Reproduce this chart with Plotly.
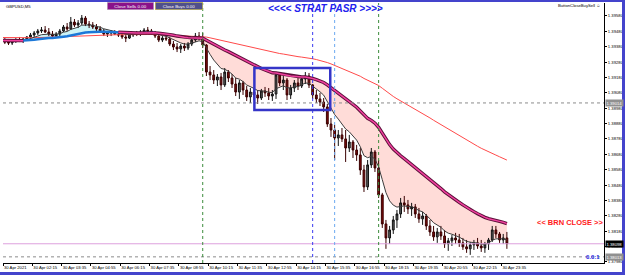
import plotly.graph_objects as go
import pandas as pd
import numpy as np

# ---------------- data (GBPUSD, 10-minute bars) ----------------
bar_start = "2021-04-30 00:50"
bar_freq = "10min"

opens = [1.39410, 1.39417, 1.39410, 1.39404, 1.39417, 1.39423, 1.39417, 1.39430, 1.39443, 1.39456,
         1.39469, 1.39482, 1.39488, 1.39475, 1.39462, 1.39449, 1.39462, 1.39482, 1.39508, 1.39495,
         1.39540, 1.39521, 1.39534, 1.39566, 1.39527, 1.39521, 1.39508, 1.39495, 1.39482, 1.39462,
         1.39469, 1.39475, 1.39462, 1.39456, 1.39443, 1.39436, 1.39456, 1.39469, 1.39462, 1.39475,
         1.39488, 1.39482, 1.39469, 1.39449, 1.39423, 1.39436, 1.39430, 1.39397, 1.39378, 1.39365,
         1.39384, 1.39371, 1.39397, 1.39423, 1.39449, 1.39436, 1.39391, 1.39215, 1.39196, 1.39163,
         1.39183, 1.39131, 1.39215, 1.39176, 1.39137, 1.39085, 1.39144, 1.39098, 1.39053, 1.39085,
         1.39066, 1.39046, 1.39092, 1.39079, 1.39059, 1.39072, 1.39196, 1.39144, 1.39163, 1.39066,
         1.39111, 1.39144, 1.39124, 1.39170, 1.39189, 1.39131, 1.39066, 1.39040, 1.39020, 1.38988,
         1.38877, 1.38838, 1.38786, 1.38806, 1.38780, 1.38721, 1.38760, 1.38708, 1.38676, 1.38578,
         1.38468, 1.38611, 1.38695, 1.38591, 1.38416, 1.38227, 1.38136, 1.38188, 1.38253, 1.38292,
         1.38364, 1.38351, 1.38325, 1.38338, 1.38292, 1.38260, 1.38279, 1.38214, 1.38175, 1.38143,
         1.38175, 1.38149, 1.38097, 1.38117, 1.38136, 1.38123, 1.38104, 1.38078, 1.38065, 1.38091,
         1.38104, 1.38084, 1.38071, 1.38097, 1.38123, 1.38188, 1.38162, 1.38123, 1.38136]

highs = [1.39430, 1.39436, 1.39430, 1.39423, 1.39436, 1.39443, 1.39436, 1.39449, 1.39469, 1.39482,
         1.39495, 1.39508, 1.39514, 1.39501, 1.39482, 1.39475, 1.39495, 1.39521, 1.39534, 1.39573,
         1.39560, 1.39553, 1.39586, 1.39579, 1.39547, 1.39540, 1.39527, 1.39514, 1.39495, 1.39482,
         1.39488, 1.39488, 1.39482, 1.39475, 1.39462, 1.39469, 1.39475, 1.39482, 1.39488, 1.39501,
         1.39508, 1.39495, 1.39482, 1.39469, 1.39449, 1.39456, 1.39443, 1.39417, 1.39404, 1.39397,
         1.39404, 1.39410, 1.39436, 1.39469, 1.39475, 1.39469, 1.39397, 1.39254, 1.39228, 1.39202,
         1.39209, 1.39241, 1.39228, 1.39202, 1.39176, 1.39163, 1.39157, 1.39124, 1.39111, 1.39111,
         1.39098, 1.39105, 1.39118, 1.39111, 1.39098, 1.39215, 1.39215, 1.39189, 1.39176, 1.39131,
         1.39163, 1.39176, 1.39189, 1.39215, 1.39209, 1.39137, 1.39098, 1.39079, 1.39046, 1.39007,
         1.38916, 1.38871, 1.38838, 1.38851, 1.38838, 1.38806, 1.38773, 1.38741, 1.38721, 1.38611,
         1.38643, 1.38721, 1.38708, 1.38643, 1.38429, 1.38253, 1.38214, 1.38279, 1.38318, 1.38396,
         1.38409, 1.38383, 1.38364, 1.38357, 1.38331, 1.38305, 1.38292, 1.38253, 1.38214, 1.38201,
         1.38214, 1.38188, 1.38136, 1.38156, 1.38169, 1.38162, 1.38136, 1.38123, 1.38110, 1.38123,
         1.38136, 1.38123, 1.38110, 1.38136, 1.38214, 1.38214, 1.38175, 1.38162, 1.38175]

lows = [1.39397, 1.39397, 1.39391, 1.39391, 1.39404, 1.39410, 1.39404, 1.39417, 1.39430, 1.39443,
        1.39456, 1.39469, 1.39469, 1.39449, 1.39436, 1.39436, 1.39449, 1.39475, 1.39482, 1.39488,
        1.39508, 1.39501, 1.39521, 1.39514, 1.39501, 1.39495, 1.39482, 1.39469, 1.39449, 1.39443,
        1.39449, 1.39456, 1.39443, 1.39430, 1.39410, 1.39430, 1.39443, 1.39449, 1.39449, 1.39462,
        1.39469, 1.39456, 1.39436, 1.39410, 1.39410, 1.39417, 1.39384, 1.39358, 1.39345, 1.39339,
        1.39352, 1.39358, 1.39384, 1.39410, 1.39423, 1.39371, 1.39189, 1.39163, 1.39137, 1.39124,
        1.39098, 1.39118, 1.39150, 1.39111, 1.39059, 1.39040, 1.39066, 1.39027, 1.39014, 1.39033,
        1.39007, 1.39033, 1.39053, 1.39033, 1.39027, 1.39040, 1.39124, 1.39098, 1.39033, 1.39040,
        1.39085, 1.39098, 1.39111, 1.39137, 1.39111, 1.39040, 1.39014, 1.38994, 1.38955, 1.38858,
        1.38793, 1.38643, 1.38734, 1.38760, 1.38630, 1.38695, 1.38656, 1.38637, 1.38546, 1.38435,
        1.38448, 1.38591, 1.38565, 1.38396, 1.38201, 1.38065, 1.38097, 1.38162, 1.38201, 1.38266,
        1.38305, 1.38292, 1.38279, 1.38266, 1.38234, 1.38221, 1.38188, 1.38149, 1.38117, 1.38104,
        1.38123, 1.38071, 1.38052, 1.38084, 1.38097, 1.38078, 1.38058, 1.38039, 1.38026, 1.38058,
        1.38065, 1.38045, 1.38039, 1.38058, 1.38110, 1.38136, 1.38104, 1.38097, 1.38065]

closes = [1.39417, 1.39410, 1.39404, 1.39417, 1.39423, 1.39417, 1.39430, 1.39443, 1.39456, 1.39469,
          1.39482, 1.39488, 1.39475, 1.39462, 1.39449, 1.39462, 1.39482, 1.39508, 1.39495, 1.39540,
          1.39521, 1.39534, 1.39566, 1.39527, 1.39521, 1.39508, 1.39495, 1.39482, 1.39462, 1.39469,
          1.39475, 1.39462, 1.39456, 1.39443, 1.39436, 1.39456, 1.39469, 1.39462, 1.39475, 1.39488,
          1.39482, 1.39469, 1.39449, 1.39423, 1.39436, 1.39430, 1.39397, 1.39378, 1.39365, 1.39384,
          1.39371, 1.39397, 1.39423, 1.39449, 1.39436, 1.39391, 1.39215, 1.39196, 1.39163, 1.39183,
          1.39131, 1.39215, 1.39176, 1.39137, 1.39085, 1.39144, 1.39098, 1.39053, 1.39085, 1.39066,
          1.39046, 1.39092, 1.39079, 1.39059, 1.39072, 1.39196, 1.39144, 1.39163, 1.39066, 1.39111,
          1.39144, 1.39124, 1.39170, 1.39189, 1.39131, 1.39066, 1.39040, 1.39020, 1.38988, 1.38877,
          1.38838, 1.38786, 1.38806, 1.38780, 1.38721, 1.38760, 1.38708, 1.38676, 1.38578, 1.38468,
          1.38611, 1.38695, 1.38591, 1.38416, 1.38227, 1.38136, 1.38188, 1.38253, 1.38292, 1.38364,
          1.38351, 1.38325, 1.38338, 1.38292, 1.38260, 1.38279, 1.38214, 1.38175, 1.38143, 1.38175,
          1.38149, 1.38097, 1.38117, 1.38136, 1.38123, 1.38104, 1.38078, 1.38065, 1.38091, 1.38104,
          1.38084, 1.38071, 1.38097, 1.38123, 1.38188, 1.38162, 1.38123, 1.38136, 1.38098]

# moving average settings (periods in bars, starting values read from the left edge)
fast_period = 8
slow_period = 33
slow_start = 1.39420
long_period = 100
long_start = 1.39440

# horizontal levels and markers
bid_price = 1.38098
level_upper = 1.39014
level_lower = 1.38013
session_lines = ["2021-04-30 10:00", "2021-04-30 15:00", "2021-04-30 16:00", "2021-04-30 18:00"]
box_start, box_end = "2021-04-30 12:21", "2021-04-30 15:48"
box_top, box_bottom = 1.39241, 1.38968

# axis labels
x_range = ["2021-04-30 00:55", "2021-05-01 04:15"]
x_tick_times = ["2021-04-30 00:55", "2021-04-30 02:15", "2021-04-30 03:35", "2021-04-30 04:55",
                "2021-04-30 06:15", "2021-04-30 07:35", "2021-04-30 08:55", "2021-04-30 10:15",
                "2021-04-30 11:35", "2021-04-30 12:55", "2021-04-30 14:15", "2021-04-30 15:35",
                "2021-04-30 16:55", "2021-04-30 18:15", "2021-04-30 19:35", "2021-04-30 20:55",
                "2021-04-30 22:15", "2021-04-30 23:35"]
x_tick_text = ["30 Apr 2021", "30 Apr 02:15", "30 Apr 03:35", "30 Apr 04:55", "30 Apr 06:15",
               "30 Apr 07:35", "30 Apr 08:55", "30 Apr 10:15", "30 Apr 11:35", "30 Apr 12:55",
               "30 Apr 14:15", "30 Apr 15:35", "30 Apr 16:55", "30 Apr 18:15", "30 Apr 19:35",
               "30 Apr 20:55", "30 Apr 22:15", "30 Apr 23:35"]
y_range = [1.37973, 1.39664]
y_ticks = [1.37980, 1.38080, 1.38180, 1.38280, 1.38380, 1.38480, 1.38580, 1.38680, 1.38780,
           1.38880, 1.38980, 1.39080, 1.39180, 1.39280, 1.39380, 1.39480, 1.39580]
y_tick_text = ["%.5f" % v for v in y_ticks]

# ---------------- derived indicator lines ----------------
times = pd.date_range(bar_start, periods=len(closes), freq=bar_freq)


def ema(values, period, start):
    a = 2.0 / (period + 1)
    e = start
    out = []
    for v in values:
        e = e + a * (v - e)
        out.append(e)
    return np.array(out)


fast = ema(closes, fast_period, closes[0])
slow = ema(closes, slow_period, slow_start)
longma = ema(closes, long_period, long_start)

bear = fast < slow
bear_ext = bear.copy()
bear_ext[1:] |= bear[:-1]
bear_ext[:-1] |= bear[1:]
bull = ~bear
bull_ext = bull.copy()
bull_ext[1:] |= bull[:-1]
bull_ext[:-1] |= bull[1:]

# ---------------- figure ----------------
W, H = 625, 275
ML, MR, MT, MB = 3, 21, 3, 12
PW, PH = W - ML - MR, H - MT - MB


def px(x):
    return (x - ML) / PW


def py(y):
    return (H - MB - y) / PH


fig = go.Figure()

# fills between fast and slow MA (bottom layer, main axes)
fig.add_trace(go.Scatter(x=times, y=slow, mode="lines", line=dict(width=0), hoverinfo="skip"))
fig.add_trace(go.Scatter(x=times, y=np.where(bear, fast, slow), mode="lines", line=dict(width=0),
                         fill="tonexty", fillcolor="#FFDCD8", hoverinfo="skip"))
fig.add_trace(go.Scatter(x=times, y=slow, mode="lines", line=dict(width=0), hoverinfo="skip"))
fig.add_trace(go.Scatter(x=times, y=np.where(bull, fast, slow), mode="lines", line=dict(width=0),
                         fill="tonexty", fillcolor="#CDF3F6", hoverinfo="skip"))

# everything else on overlay axes so it is drawn above the fills
ov = dict(xaxis="x2", yaxis="y2")

fig.add_trace(go.Scatter(x=times, y=longma, mode="lines", line=dict(color="#FF4A4A", width=1), **ov))

fig.add_trace(go.Candlestick(
    x=times, open=opens, high=highs, low=lows, close=closes,
    increasing=dict(line=dict(color="#111111", width=1), fillcolor="#5A5A5A"),
    decreasing=dict(line=dict(color="#3A0000", width=1), fillcolor="#7A0A0A"),
    whiskerwidth=0, **ov
))

fig.add_trace(go.Scatter(x=times, y=fast, mode="lines", line=dict(color="#3C3C3C", width=1), **ov))

fig.add_trace(go.Scatter(x=times, y=np.where(bull_ext, slow, None), mode="lines",
                         line=dict(color="#1C78D8", width=2.5), connectgaps=False, **ov))
fig.add_trace(go.Scatter(x=times, y=np.where(bear_ext, slow, None), mode="lines",
                         line=dict(color="#5A0F38", width=3.4), connectgaps=False, **ov))
fig.add_trace(go.Scatter(x=times, y=np.where(bear_ext, slow, None), mode="lines",
                         line=dict(color="#F0409E", width=1.5), connectgaps=False, **ov))

shapes = []
shapes.append(dict(type="line", xref="paper", x0=0, x1=1, yref="y", y0=level_upper, y1=level_upper,
                   line=dict(color="#8C8C8C", width=1, dash="dot")))
shapes.append(dict(type="line", xref="paper", x0=0, x1=1, yref="y", y0=level_lower, y1=level_lower,
                   line=dict(color="#8C8C8C", width=1, dash="dot")))
shapes.append(dict(type="line", xref="paper", x0=0, x1=1, yref="y", y0=bid_price, y1=bid_price,
                   line=dict(color="#DDA0DD", width=1)))
sess_colors = ["#3C8C3C", "#3A3AF0", "#6AA8F0", "#3C8C3C"]
for t, c in zip(session_lines, sess_colors):
    shapes.append(dict(type="line", xref="x", x0=t, x1=t, yref="paper", y0=0, y1=1,
                       line=dict(color=c, width=1, dash="dot")))
shapes.append(dict(type="rect", xref="x", x0=box_start, x1=box_end, yref="y", y0=box_bottom, y1=box_top,
                   line=dict(color="#3535C8", width=2.5), fillcolor="rgba(0,0,0,0)"))
shapes.append(dict(type="line", xref="paper", yref="paper", x0=px(0), x1=px(W), y0=py(1), y1=py(1),
                   line=dict(color="#4444CC", width=2)))
shapes.append(dict(type="line", xref="paper", yref="paper", x0=px(623.5), x1=px(623.5), y0=py(0), y1=py(H),
                   line=dict(color="#4444CC", width=3)))
shapes.append(dict(type="line", xref="paper", yref="paper", x0=px(0), x1=px(W), y0=py(273.5), y1=py(273.5),
                   line=dict(color="#4444CC", width=3)))

annotations = []
small = dict(family="Liberation Sans, Arial", size=4.2, color="#000000")
annotations.append(dict(xref="paper", yref="paper", x=px(4), y=py(7), text="GBPUSD,M5", showarrow=False,
                        xanchor="left", yanchor="middle", font=small))
annotations.append(dict(xref="paper", yref="paper", x=px(602), y=py(6), text="ButtonCloseBuySell ☺",
                        showarrow=False, xanchor="right", yanchor="middle", font=small))
annotations.append(dict(xref="paper", yref="paper", x=px(130), y=py(6), text="Close Sells 0.00",
                        showarrow=False, xanchor="center", yanchor="middle", width=44, height=5,
                        bgcolor="#8A128A", bordercolor="#C0C0C0", borderwidth=0.5,
                        font=dict(family="Liberation Sans, Arial", size=4.4, color="#FFFFFF")))
annotations.append(dict(xref="paper", yref="paper", x=px(179), y=py(6), text="Close Buys 0.00",
                        showarrow=False, xanchor="center", yanchor="middle", width=45, height=5,
                        bgcolor="#50508A", bordercolor="#D8C830", borderwidth=0.5,
                        font=dict(family="Liberation Sans, Arial", size=4.4, color="#FFFFFF")))
annotations.append(dict(xref="paper", yref="paper", x=px(325), y=py(8.5),
                        text="<b><i>&lt;&lt;&lt;&lt; STRAT PASR &gt;&gt;&gt;&gt;</i></b>",
                        showarrow=False, xanchor="center", yanchor="middle",
                        font=dict(family="Liberation Sans, Arial", size=10, color="#2222EE")))
annotations.append(dict(xref="paper", yref="paper", x=px(570), y=py(222),
                        text="<b>&lt;&lt; BRN CLOSE &gt;&gt;</b>",
                        showarrow=False, xanchor="center", yanchor="middle",
                        font=dict(family="Liberation Sans, Arial", size=7.5, color="#FF1A1A")))
annotations.append(dict(xref="paper", yref="y", x=px(602), y=level_lower, text="<b>0.0:1</b>",
                        showarrow=False, xanchor="right", yanchor="middle",
                        font=dict(family="Liberation Sans, Arial", size=6, color="#1A1AE6")))
for val, bg, fc in [(bid_price, "#000000", "#FFFFFF"), (level_upper, "#909090", "#FFFFFF"),
                    (level_lower, "#909090", "#FFFFFF")]:
    annotations.append(dict(xref="paper", yref="y", x=px(605), y=val, text="%.5f" % val,
                            showarrow=False, xanchor="left", yanchor="middle", bgcolor=bg,
                            borderpad=0.5, font=dict(family="Liberation Sans, Arial", size=4.2, color=fc)))

fig.update_layout(
    width=W, height=H,
    margin=dict(l=ML, r=MR, t=MT, b=MB),
    paper_bgcolor="#FFFFFF", plot_bgcolor="#FFFFFF",
    showlegend=False,
    template="none",
    shapes=shapes,
    annotations=annotations,
    xaxis=dict(type="date", range=x_range, tickvals=x_tick_times, ticktext=x_tick_text,
               tickangle=0,
               tickfont=dict(family="Liberation Sans, Arial", size=4.2, color="#000000"),
               ticklabelposition="outside right", ticks="outside", ticklen=2, tickcolor="#000000",
               showgrid=False, zeroline=False, showline=True, linecolor="#000000", linewidth=1,
               rangeslider=dict(visible=False), automargin=False),
    yaxis=dict(side="right", range=y_range, tickvals=y_ticks, ticktext=y_tick_text,
               tickfont=dict(family="Liberation Sans, Arial", size=4.2, color="#000000"),
               ticks="outside", ticklen=2, tickcolor="#000000",
               showgrid=False, zeroline=False, showline=True, linecolor="#000000", linewidth=1,
               automargin=False),
    xaxis2=dict(type="date", overlaying="x", range=x_range, visible=False,
                rangeslider=dict(visible=False), automargin=False),
    yaxis2=dict(overlaying="y", range=y_range, visible=False, automargin=False),
)

fig.write_html("out.html", config={"displayModeBar": False})
